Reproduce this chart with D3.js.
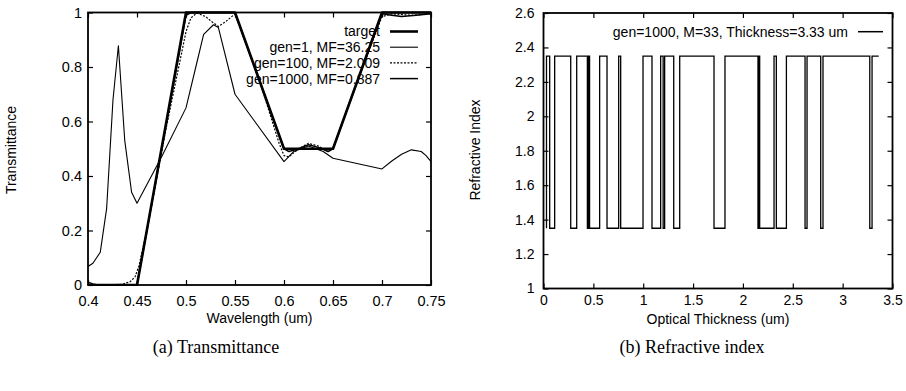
<!DOCTYPE html>
<html>
<head>
<meta charset="utf-8">
<script src="https://cdn.jsdelivr.net/npm/d3@7"></script>
<style>
  body { margin: 0; background: #fff; }
  svg { display: block; font-family: "Liberation Sans", Arial, sans-serif; }
  .tick text { fill: #000; }
  .tick line { stroke: #000; stroke-width: 1.2; }
  .domain { display: none; }
  .caption { font-family: "Liberation Serif", "Times New Roman", serif; font-size: 18px; }
</style>
</head>
<body>
<svg id="chart" width="906" height="391"></svg>
<script>
'use strict';

// (a) Transmittance
const targetX = [0.4, 0.45, 0.5, 0.55, 0.6, 0.65, 0.7, 0.75];
const targetY = [0, 0, 1, 1, 0.5, 0.5, 1, 1];

const gen1X = [0.4, 0.405, 0.4125, 0.419, 0.4255, 0.431, 0.4375, 0.4445, 0.45, 0.475, 0.5, 0.51, 0.518, 0.528, 0.533, 0.55, 0.6, 0.61, 0.625, 0.64, 0.65, 0.7, 0.71, 0.72, 0.73, 0.74, 0.745, 0.75];
const gen1Y = [0.068, 0.08, 0.12, 0.28, 0.68, 0.878, 0.53, 0.34, 0.30, 0.47, 0.65, 0.80, 0.92, 0.955, 0.945, 0.70, 0.453, 0.49, 0.51, 0.49, 0.465, 0.426, 0.455, 0.48, 0.496, 0.49, 0.475, 0.453];

const gen100X = [0.4, 0.42, 0.435, 0.443, 0.448, 0.452, 0.46, 0.48, 0.5, 0.505, 0.511, 0.52, 0.526, 0.533, 0.54, 0.55, 0.575, 0.595, 0.6, 0.605, 0.615, 0.625, 0.635, 0.645, 0.65, 0.675, 0.7, 0.71, 0.73, 0.75];
const gen100Y = [0.0, 0.0, 0.003, 0.012, 0.03, 0.07, 0.2, 0.58, 0.93, 0.98, 0.998, 0.985, 0.967, 0.949, 0.965, 0.995, 0.75, 0.52, 0.475, 0.47, 0.5, 0.52, 0.51, 0.49, 0.5, 0.75, 0.985, 0.995, 0.99, 0.995];

const gen1000X = [0.4, 0.405, 0.41, 0.45, 0.5, 0.505, 0.55, 0.6, 0.605, 0.615, 0.625, 0.635, 0.645, 0.65, 0.7, 0.71, 0.72, 0.735, 0.75];
const gen1000Y = [0.01, 0.004, 0.0, 0.0, 0.99, 1.0, 1.0, 0.5, 0.49, 0.5, 0.515, 0.505, 0.49, 0.5, 0.995, 0.99, 0.985, 0.99, 0.995];

const wlTicks = [0.4, 0.45, 0.5, 0.55, 0.6, 0.65, 0.7, 0.75];
const tTicks = [0, 0.2, 0.4, 0.6, 0.8, 1];

// (b) Refractive index: layer boundaries and index of each layer
const layerEdges = [0.03, 0.062, 0.112, 0.273, 0.333, 0.440, 0.450, 0.462, 0.563, 0.637, 0.754, 0.774, 0.998, 1.088, 1.175, 1.200, 1.215, 1.306, 1.366, 1.710, 1.820, 2.151, 2.160, 2.168, 2.312, 2.335, 2.436, 2.623, 2.643, 2.780, 2.803, 3.272, 3.295, 3.362];
const layerIndex = [2.35, 1.35, 2.35, 1.35, 2.35, 1.35, 2.35, 1.35, 2.35, 1.35, 2.35, 1.35, 2.35, 1.35, 2.35, 1.35, 2.35, 1.35, 2.35, 1.35, 2.35, 1.35, 2.35, 1.35, 2.35, 1.35, 2.35, 1.35, 2.35, 1.35, 2.35, 1.35, 2.35];

const otTicks = [0, 0.5, 1, 1.5, 2, 2.5, 3, 3.5];
const nTicks = [1, 1.2, 1.4, 1.6, 1.8, 2, 2.2, 2.4, 2.6];

const svg = d3.select("#chart");
svg.append("rect").attr("width", 906).attr("height", 391).attr("fill", "#fff");

// draws frame with inward ticks on all four sides
function frame(g, x, y, xTicks, yTicks, xPad, yPad, fs) {
  const [x0, x1] = x.range();
  const [y0, y1] = y.range();
  const fmt = d => String(d);
  g.append("g").attr("transform", `translate(0,${y0})`)
    .call(d3.axisBottom(x).tickValues(xTicks).tickSize(-5).tickPadding(xPad).tickFormat(fmt))
    .selectAll("text").style("font-size", fs);
  g.append("g").attr("transform", `translate(0,${y1})`)
    .call(d3.axisTop(x).tickValues(xTicks).tickSize(-5).tickFormat(""));
  g.append("g").attr("transform", `translate(${x0},0)`)
    .call(d3.axisLeft(y).tickValues(yTicks).tickSize(-5).tickPadding(yPad).tickFormat(fmt))
    .selectAll("text").style("font-size", fs);
  g.append("g").attr("transform", `translate(${x1},0)`)
    .call(d3.axisRight(y).tickValues(yTicks).tickSize(-5).tickFormat(""));
  g.append("rect")
    .attr("x", x0).attr("y", y1)
    .attr("width", x1 - x0).attr("height", y0 - y1)
    .attr("fill", "none").attr("stroke", "#000").attr("stroke-width", 1.8);
}

// ---------- (a) ----------
const xA = d3.scaleLinear().domain([0.4, 0.75]).range([88, 431]);
const yA = d3.scaleLinear().domain([0, 1]).range([285, 12.5]);

const gA = svg.append("g");
svg.append("clipPath").attr("id", "clipA").append("rect")
  .attr("x", 88).attr("y", 11).attr("width", 343).attr("height", 275);

const series = [
  {name: "target", xs: targetX, ys: targetY, width: 2.6, dash: null},
  {name: "gen=1, MF=36.25", xs: gen1X, ys: gen1Y, width: 1.1, dash: null},
  {name: "gen=100, MF=2.009", xs: gen100X, ys: gen100Y, width: 1.2, dash: "2,1.5"},
  {name: "gen=1000, MF=0.887", xs: gen1000X, ys: gen1000Y, width: 1.5, dash: null}
];

const lineA = d3.line().x(d => xA(d[0])).y(d => yA(d[1]));

gA.append("g").attr("clip-path", "url(#clipA)")
  .selectAll("path")
  .data(series)
  .enter()
  .append("path")
  .attr("d", s => lineA(s.xs.map((v, i) => [v, s.ys[i]])))
  .attr("fill", "none")
  .attr("stroke", "#000")
  .attr("stroke-width", s => s.width)
  .attr("stroke-dasharray", s => s.dash)
  .attr("stroke-linejoin", "round");

frame(gA, xA, yA, wlTicks, tTicks, 11, 6, "14.5px");

// legend
const legA = gA.append("g").selectAll("g").data(series).enter().append("g")
  .attr("transform", (d, i) => `translate(0,${31.5 + i * 15.7})`);
legA.append("text")
  .attr("x", 380).attr("dy", "0.35em")
  .attr("text-anchor", "end")
  .style("font-size", "14px")
  .text(d => d.name);
legA.append("line")
  .attr("x1", 390).attr("x2", 418)
  .attr("stroke", "#000")
  .attr("stroke-width", d => d.width)
  .attr("stroke-dasharray", d => d.dash);

gA.append("text")
  .attr("x", 259.5).attr("y", 323)
  .attr("text-anchor", "middle")
  .style("font-size", "14px")
  .text("Wavelength (um)");
gA.append("text")
  .attr("transform", "translate(16,150) rotate(-90)")
  .attr("text-anchor", "middle")
  .style("font-size", "14px")
  .text("Transmittance");
gA.append("text")
  .attr("class", "caption")
  .attr("x", 216).attr("y", 353)
  .attr("text-anchor", "middle")
  .text("(a) Transmittance");

// ---------- (b) ----------
const xB = d3.scaleLinear().domain([0, 3.5]).range([543.5, 892.5]);
const yB = d3.scaleLinear().domain([1, 2.6]).range([288.5, 13]);

const gB = svg.append("g");

const steps = [[layerEdges[0], 1.35]];
layerIndex.forEach((n, i) => steps.push([layerEdges[i], n]));
steps.push([layerEdges[layerEdges.length - 1], layerIndex[layerIndex.length - 1]]);

gB.append("path")
  .attr("d", d3.line().curve(d3.curveStepAfter).x(d => xB(d[0])).y(d => yB(d[1]))(steps))
  .attr("fill", "none")
  .attr("stroke", "#000")
  .attr("stroke-width", 1.3);

frame(gB, xB, yB, otTicks, nTicks, 7, 9, "14px");

gB.append("text")
  .attr("x", 848).attr("y", 31.7).attr("dy", "0.35em")
  .attr("text-anchor", "end")
  .style("font-size", "14px")
  .text("gen=1000, M=33, Thickness=3.33 um");
gB.append("line")
  .attr("x1", 858).attr("x2", 883)
  .attr("y1", 31.7).attr("y2", 31.7)
  .attr("stroke", "#000").attr("stroke-width", 1.5);

gB.append("text")
  .attr("x", 718).attr("y", 324)
  .attr("text-anchor", "middle")
  .style("font-size", "14px")
  .text("Optical Thickness (um)");
gB.append("text")
  .attr("transform", "translate(480,150) rotate(-90)")
  .attr("text-anchor", "middle")
  .style("font-size", "14px")
  .text("Refractive Index");
gB.append("text")
  .attr("class", "caption")
  .attr("x", 692).attr("y", 353)
  .attr("text-anchor", "middle")
  .text("(b) Refractive index");
</script>
</body>
</html>
